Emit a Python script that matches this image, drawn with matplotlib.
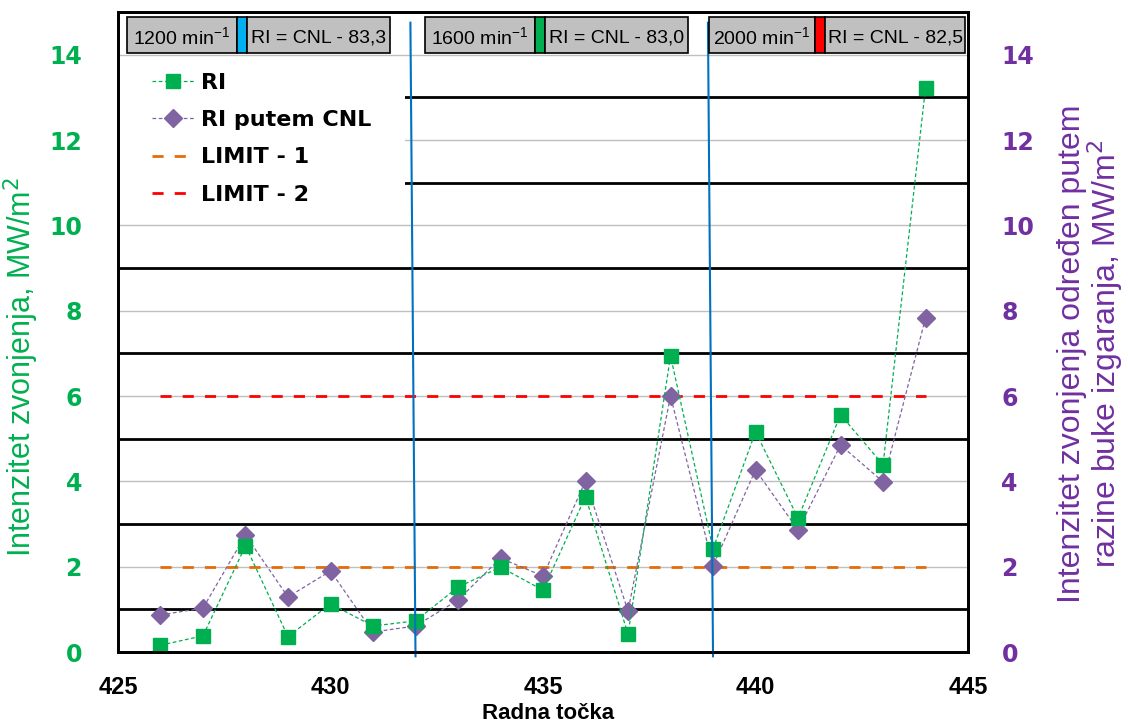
import numpy as np
import matplotlib
matplotlib.use("Agg")
import matplotlib.pyplot as plt
from matplotlib.patches import Rectangle
from matplotlib.lines import Line2D

# data
radnaTocka = [426, 427, 428, 429, 430, 431, 432, 433, 434, 435,
              436, 437, 438, 439, 440, 441, 442, 443, 444]
riValues = [0.16, 0.38, 2.49, 0.36, 1.13, 0.61, 0.73, 1.52, 1.99, 1.45,
            3.64, 0.42, 6.94, 2.42, 5.16, 3.14, 5.56, 4.39, 13.23]
riCnlValues = [0.87, 1.03, 2.74, 1.29, 1.90, 0.47, 0.61, 1.22, 2.20, 1.78,
               4.01, 0.96, 6.00, 2.02, 4.27, 2.86, 4.85, 3.99, 7.83]
limit1 = 2
limit2 = 6
speedBorders = [432, 439]
speedLabels = ["1200 min$^{\\mathregular{-1}}$", "1600 min$^{\\mathregular{-1}}$",
               "2000 min$^{\\mathregular{-1}}$"]
formulaLabels = ["RI = CNL - 83,3", "RI = CNL - 83,0", "RI = CNL - 82,5"]
speedColors = ["#00B0F0", "#00B050", "#FF0000"]
xTicks = [425, 430, 435, 440, 445]
yTicks = [0, 2, 4, 6, 8, 10, 12, 14]

GREEN = "#00B050"
PURPLE = "#7030A0"
FONT = ["Liberation Sans", "DejaVu Sans"]

fig = plt.figure(figsize=(11.28, 7.24), dpi=100)
ax = fig.add_axes([0.1046, 0.0994, 0.7536, 0.884])
ax2 = ax.twinx()

ax.set_xlim(425, 445)
ax.set_ylim(0, 15)
ax2.set_ylim(0, 15)

# gridlines: light grey on even values, black on odd values
for v in yTicks[1:]:
    ax.axhline(v, color="#BFBFBF", lw=1, zorder=1)
for v in range(1, 15, 2):
    ax.axhline(v, color="black", lw=2, zorder=1)

# white area behind the legend (hides the gridlines there)
ax.add_patch(Rectangle((0.0, 10.6), 0.338, 3.2, transform=ax.get_yaxis_transform(),
                       facecolor="white", edgecolor="none", zorder=2))

# limits
ax.plot([radnaTocka[0], radnaTocka[-1]], [limit1, limit1], color="#E46C0A",
        lw=2, dashes=(4, 4), zorder=3)
ax.plot([radnaTocka[0], radnaTocka[-1]], [limit2, limit2], color="#FF0000",
        lw=2, dashes=(4, 4), zorder=3)

# series
lineRi, = ax.plot(radnaTocka, riValues, color=GREEN, lw=0.9, dashes=(3, 2),
                  marker="s", ms=10, mec=GREEN, mfc=GREEN, zorder=5)
lineCnl, = ax.plot(radnaTocka, riCnlValues, color="#8064A2", lw=0.9, dashes=(3, 2),
                   marker="D", ms=9, mec="#8064A2", mfc="#8064A2", zorder=4)

# blue borders between speed ranges (slightly slanted like the drawn shapes)
for b in speedBorders:
    ax.plot([b - 0.12, b], [14.75, -0.1], color="#0070C0", lw=1.5, zorder=6,
            clip_on=False)

# legend
handles = [lineRi, lineCnl,
           Line2D([], [], color="#E46C0A", lw=2, dashes=(4, 4)),
           Line2D([], [], color="#FF0000", lw=2, dashes=(4, 4))]
leg = ax.legend(handles, ["RI", "RI putem CNL", "LIMIT - 1", "LIMIT - 2"],
                loc="upper left", bbox_to_anchor=(0.04, 0.905), frameon=False,
                handlelength=1.9, handletextpad=0.3, labelspacing=0.78,
                borderpad=0, borderaxespad=0,
                prop={"family": "DejaVu Sans", "weight": "bold", "size": 16})
leg.set_zorder(7)

# top boxes with speed and formula
boxes = [(0.0106, 0.1400, 0.1518, 0.3200),
         (0.3612, 0.4906, 0.5024, 0.6706),
         (0.6953, 0.8200, 0.8318, 0.9965)]
y0, y1 = 0.936, 0.992
for (a, s0, s1, e), sp, fl, c in zip(boxes, speedLabels, formulaLabels, speedColors):
    for (p, q, fc) in [(a, s0, "#C0C0C0"), (s0, s1, c), (s1, e, "#C0C0C0")]:
        ax.add_patch(Rectangle((p, y0), q - p, y1 - y0, transform=ax.transAxes,
                               facecolor=fc, edgecolor="black", lw=1.2,
                               zorder=8, clip_on=False))
    ax.text((a + s0) / 2, (y0 + y1) / 2 - 0.004, sp, transform=ax.transAxes,
            ha="center", va="center", fontsize=14, family=FONT, zorder=9)
    ax.text((s1 + e) / 2, (y0 + y1) / 2 - 0.004, fl, transform=ax.transAxes,
            ha="center", va="center", fontsize=14, family=FONT, zorder=9)

# axes styling
for axis in (ax, ax2):
    for sp in axis.spines.values():
        sp.set_linewidth(2)
        sp.set_color("black")

ax.set_xticks(xTicks)
ax.set_yticks(yTicks)
ax2.set_yticks(yTicks)
ax.tick_params(axis="x", length=0, pad=17, labelsize=17, labelcolor="black")
ax.tick_params(axis="y", length=0, pad=26, labelsize=17, labelcolor=GREEN)
ax2.tick_params(axis="y", length=0, pad=24, labelsize=17, labelcolor=PURPLE)
for t in ax.get_xticklabels():
    t.set_fontweight("bold")
    t.set_family(FONT)
for t in ax.get_yticklabels() + ax2.get_yticklabels():
    t.set_fontweight("bold")
    t.set_family("DejaVu Sans")

ax.set_xlabel("Radna točka", fontsize=16, fontweight="bold", family=FONT)
ax.xaxis.set_label_coords(0.506, -0.08)
ax.set_ylabel("Intenzitet zvonjenja, MW/m$^2$", fontsize=22, color=GREEN,
              family=FONT)
ax.yaxis.set_label_coords(-0.09, 0.445)
ax2.set_ylabel("Intenzitet zvonjenja određen putem\nrazine buke izgaranja, MW/m$^2$",
               fontsize=23, color=PURPLE, family=FONT, rotation=90,
               linespacing=0.95)
ax2.yaxis.set_label_coords(1.105, 0.466)

fig.savefig("out.png", dpi=100)
